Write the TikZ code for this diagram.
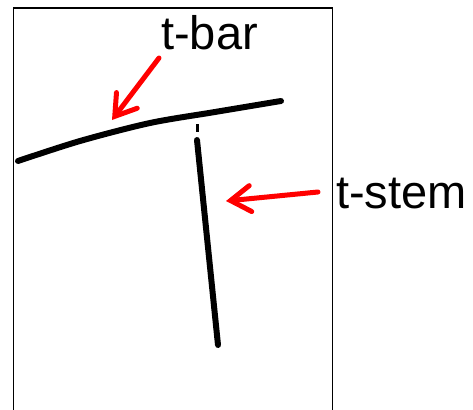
\documentclass[tikz,border=0pt]{standalone}
\usepackage{fontspec}
\setmainfont{Liberation Sans}
\usetikzlibrary{positioning,arrows.meta}

\begin{document}
\begin{tikzpicture}[x=1pt,y=-1pt,
    ink/.style={line width=6pt,line cap=round,line join=round},
    pointer/.style={red,line width=5pt,line cap=round,-{Straight Barb[length=20pt,width=26pt,line cap=round]}},
    lbl/.style={inner sep=0pt,anchor=base west,font=\fontsize{47}{56}\selectfont}]
    \useasboundingbox (0,0) rectangle (473,409);
    \draw[line width=1.2pt] (13.5,420) -- (13.5,8) -- (332.5,8) -- (332.5,420);

    % the handwritten letter
    \draw[ink] plot [smooth] coordinates {(18,161) (80,141) (150,123) (215,112) (281,101)};
    \draw[line width=3pt] (197,124) -- (197,132);
    \draw[ink] (197,140) -- (218,345);

    \node[lbl] (bar) at (161,50) {t-bar};
    \node[lbl] (stem) at (336,208) {t-stem};

    \coordinate (barTail) at (159,58);
    \coordinate (barTip) at (112,120);
    \coordinate (stemTail) at (318,192);
    \coordinate (stemTip) at (226,201);

    \draw[pointer] (barTail) -- (barTip);
    \draw[pointer] (stemTail) -- (stemTip);
\end{tikzpicture}
\end{document}
